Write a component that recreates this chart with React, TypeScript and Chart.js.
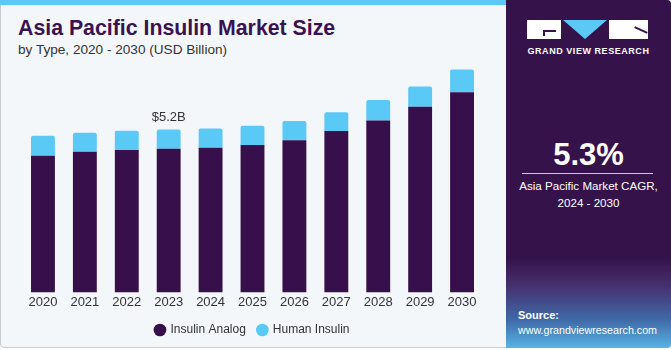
import React, { useEffect, useRef } from "react";
import { Chart, registerables } from "chart.js";

Chart.register(...registerables);

const years = ["2020", "2021", "2022", "2023", "2024", "2025", "2026", "2027", "2028", "2029", "2030"];
const insulinAnalog = [4.36, 4.49, 4.55, 4.59, 4.62, 4.71, 4.86, 5.15, 5.49, 5.93, 6.39];
const humanInsulin = [0.64, 0.61, 0.61, 0.61, 0.61, 0.61, 0.61, 0.6, 0.65, 0.64, 0.73];
const annotatedIndex = 3;
const annotationText = "$5.2B";

const PURPLE = "#370f4a";
const BLUE = "#5bc9f5";

const valueLabel = {
  id: "valueLabel",
  afterDatasetsDraw(chart: any) {
    const meta = chart.getDatasetMeta(1);
    const bar = meta.data[annotatedIndex];
    if (!bar) return;
    const ctx = chart.ctx;
    ctx.save();
    ctx.font = "13px 'Liberation Sans', Arial, sans-serif";
    ctx.fillStyle = "#333";
    ctx.textAlign = "center";
    ctx.textBaseline = "middle";
    ctx.fillText(annotationText, bar.x, bar.y - 12);
    ctx.restore();
  },
};

export default function App() {
  const ref = useRef<HTMLCanvasElement>(null);
  useEffect(() => {
    if (!ref.current) return;
    const chart = new Chart(ref.current, {
      type: "bar",
      data: {
        labels: years,
        datasets: [
          { label: "Insulin Analog", data: insulinAnalog, backgroundColor: PURPLE, borderWidth: 0 },
          {
            label: "Human Insulin",
            data: humanInsulin,
            backgroundColor: BLUE,
            borderWidth: 0,
            borderRadius: { topLeft: 2, topRight: 2, bottomLeft: 0, bottomRight: 0 },
            borderSkipped: false,
          },
        ],
      },
      options: {
        responsive: false,
        animation: false,
        layout: { padding: { left: 22, right: 22, top: 0, bottom: 0 } },
        datasets: { bar: { categoryPercentage: 1, barPercentage: 0.57 } },
        scales: {
          x: {
            stacked: true,
            grid: { display: false, drawTicks: false, tickLength: 0 },
            border: { display: false },
            ticks: { color: "#333", padding: 2, font: { size: 13, family: "'Liberation Sans', Arial, sans-serif" } },
          },
          y: { stacked: true, display: false, min: 0, max: 7.42 },
        },
        plugins: {
          legend: {
            position: "bottom",
            labels: {
              usePointStyle: true,
              pointStyle: "circle",
              boxWidth: 9,
              boxHeight: 9,
              padding: 12,
              color: "#333",
              font: { size: 12, family: "'Liberation Sans', Arial, sans-serif" },
            },
          },
          tooltip: { enabled: false },
        },
      },
      plugins: [valueLabel],
    });
    return () => chart.destroy();
  }, []);

  return (
    <div style={{ position: "absolute", left: 0, top: 0, width: 671, height: 350, background: "#fff", overflow: "hidden", fontFamily: "'Liberation Sans', Arial, sans-serif" }}>
      <div style={{ position: "absolute", left: 0, top: 0, width: 669, height: 346, background: "#f3f7fa", border: "1px solid #c9cdd1", borderRadius: 4 }} />
      <div style={{ position: "absolute", left: 0, top: 0, width: 508, height: 5, background: BLUE }} />
      <div style={{ position: "absolute", left: 18, top: 16, fontSize: 21.3, fontWeight: 700, color: "#3a1250", whiteSpace: "nowrap" }}>
        Asia Pacific Insulin Market Size
      </div>
      <div style={{ position: "absolute", left: 18, top: 42, fontSize: 13.6, color: "#333", whiteSpace: "nowrap" }}>
        by Type, 2020 - 2030 (USD Billion)
      </div>
      <canvas ref={ref} width={505} height={286} style={{ position: "absolute", left: 0, top: 60, width: 505, height: 286 }} />
      <div style={{ position: "absolute", left: 506, top: 0, width: 165, height: 348, background: "linear-gradient(180deg, #36124a 0%, #36124a 74%, #45306e 82%, #3f6aa8 92%, #58b4e6 100%)", borderTopRightRadius: 4, borderBottomRightRadius: 4 }} />
      {/* logo */}
      <div style={{ position: "absolute", left: 527, top: 20, width: 34, height: 19, background: "#fff" }} />
      <div style={{ position: "absolute", left: 543, top: 30, width: 13, height: 2, background: "#36124a" }} />
      <div style={{ position: "absolute", left: 543, top: 30, width: 2, height: 6, background: "#36124a" }} />
      <div style={{ position: "absolute", left: 563, top: 20, width: 0, height: 0, borderLeft: "22px solid transparent", borderRight: "22px solid transparent", borderTop: "19px solid " + BLUE }} />
      <div style={{ position: "absolute", left: 609, top: 20, width: 39, height: 19, background: "#fff" }} />
      <div style={{ position: "absolute", left: 634, top: 29, width: 14, height: 2, background: "#36124a", transform: "rotate(25deg)" }} />
      <div style={{ position: "absolute", left: 506, top: 46, width: 165, textAlign: "center", fontSize: 9, fontWeight: 700, color: "#fff", letterSpacing: 0.55 }}>
        GRAND VIEW RESEARCH
      </div>
      <div style={{ position: "absolute", left: 506, top: 137, width: 165, textAlign: "center", fontSize: 31, fontWeight: 700, color: "#fff" }}>
        5.3%
      </div>
      <div style={{ position: "absolute", left: 522, top: 173, width: 131, height: 1, background: "#cfc6d6" }} />
      <div style={{ position: "absolute", left: 506, top: 177, width: 165, textAlign: "center", fontSize: 11.6, color: "#fff", lineHeight: "17px" }}>
        Asia Pacific Market CAGR,<br />2024 - 2030
      </div>
      <div style={{ position: "absolute", left: 518, top: 309, fontSize: 11, fontWeight: 700, color: "#fff" }}>Source:</div>
      <div style={{ position: "absolute", left: 518, top: 324, fontSize: 10.7, color: "#fff" }}>www.grandviewresearch.com</div>
    </div>
  );
}
